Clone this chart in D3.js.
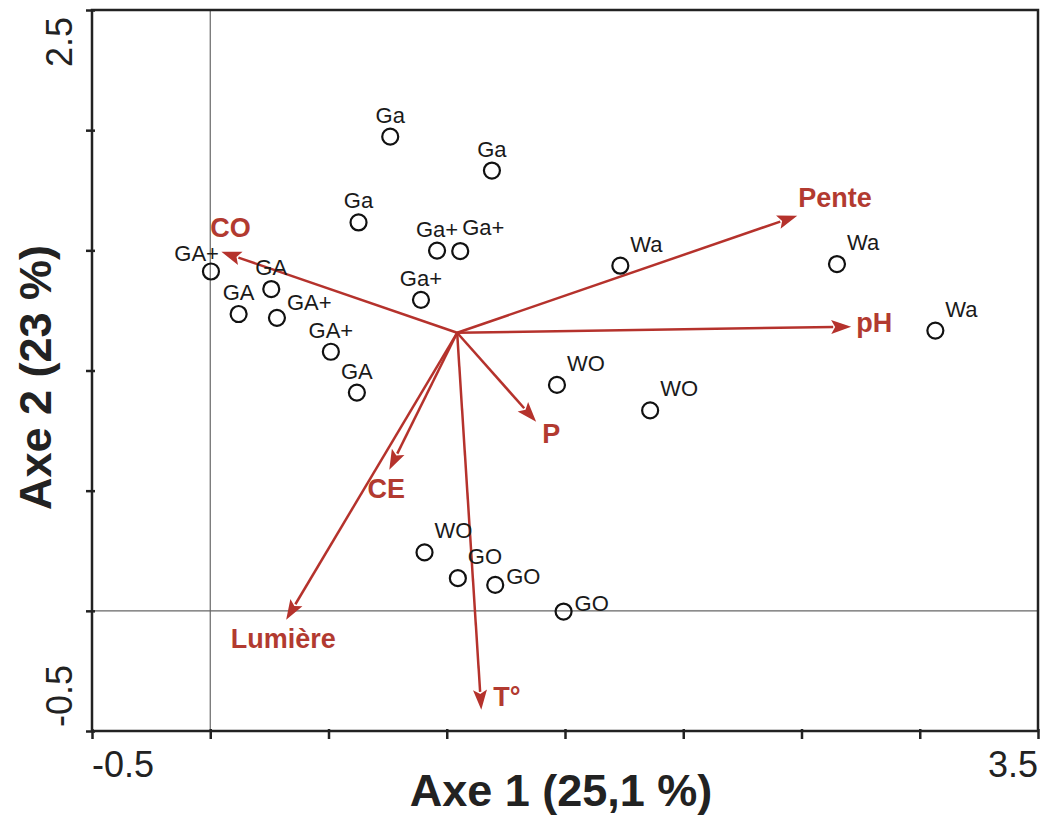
<!DOCTYPE html>
<html>
<head>
<meta charset="utf-8">
<script src="https://cdn.jsdelivr.net/npm/d3@7"></script>
<style>
  html, body { margin: 0; padding: 0; background: #fff; }
  svg { display: block; font-family: Arial, "Liberation Sans", sans-serif; }
</style>
</head>
<body>
<svg id="chart" width="1042" height="815"></svg>
<script>
// relevés (scores sur les axes 1 et 2)
const sampleLabels = ['Ga', 'Ga', 'Ga', 'Ga+', 'Ga+', 'Ga+', 'GA+', 'GA', 'GA', 'GA+', 'GA+', 'GA',
  'Wa', 'Wa', 'Wa', 'WO', 'WO', 'WO', 'GO', 'GO', 'GO'];
const sampleAxe1 = [0.761, 1.191, 0.627, 0.959, 1.057, 0.891, 0.003, 0.258, 0.120, 0.282, 0.510, 0.620,
  1.734, 2.650, 3.066, 1.466, 1.860, 0.906, 1.047, 1.205, 1.494];
const sampleAxe2 = [1.973, 1.832, 1.616, 1.499, 1.497, 1.294, 1.412, 1.339, 1.235, 1.219, 1.078, 0.908,
  1.436, 1.443, 1.166, 0.940, 0.834, 0.243, 0.136, 0.108, -0.003];
const sampleLabelPos = ['n', 'n', 'n', 'n', 'nne', 'n', 'nw', 'n', 'n', 'ene', 'n', 'n',
  'ne', 'ne', 'ne', 'ne', 'ne', 'ne', 'ne', 'e', 'e'];

// variables environnementales (extrémités des flèches)
const varNames = ['CO', 'Pente', 'pH', 'P', 'CE', 'Lumière', 'T°'];
const varAxe1 = [0.047, 2.482, 2.710, 1.378, 0.757, 0.321, 1.146];
const varAxe2 = [1.494, 1.644, 1.182, 0.787, 0.587, -0.037, -0.412];
const varLabelPos = ['nw', 'ne', 'e', 'se', 's', 's', 'e2'];
const vectorOrigin = [1.044, 1.157];

const xDomain = [-0.5, 3.5];
const yDomain = [-0.5, 2.5];
const xTicks = [-0.5, 0, 0.5, 1, 1.5, 2, 2.5, 3, 3.5];
const yTicks = [-0.5, 0, 0.5, 1, 1.5, 2, 2.5];
const xTickLabels = ['-0.5', '3.5'];
const yTickLabels = ['-0.5', '2.5'];
const xTitle = 'Axe 1 (25,1 %)';
const yTitle = 'Axe 2 (23 %)';

const INK = '#222';
const RED = '#b5322c';
const RED_TXT = '#b23a30';

const svg = d3.select('#chart');
const L = 92, R = 1038, T = 10, B = 731;

const x = d3.scaleLinear().domain(xDomain).range([L, R]);
const y = d3.scaleLinear().domain(yDomain).range([B, T]);

// lignes du zéro
svg.append('line').attr('x1', x(0)).attr('x2', x(0)).attr('y1', T).attr('y2', B)
  .attr('stroke', '#666').attr('stroke-width', 1.2);
svg.append('line').attr('x1', L).attr('x2', R).attr('y1', y(0)).attr('y2', y(0))
  .attr('stroke', '#666').attr('stroke-width', 1.2);

// cadre
svg.append('rect').attr('x', L).attr('y', T).attr('width', R - L).attr('height', B - T)
  .attr('fill', 'none').attr('stroke', INK).attr('stroke-width', 2.5);

// axes
const gx = svg.append('g').attr('transform', `translate(0,${B})`)
  .call(d3.axisBottom(x).tickValues(xTicks).tickSize(8).tickFormat(''));
const gy = svg.append('g').attr('transform', `translate(${L},0)`)
  .call(d3.axisLeft(y).tickValues(yTicks).tickSize(6).tickFormat(''));
[gx, gy].forEach(g => {
  g.select('.domain').remove();
  g.selectAll('.tick line').attr('stroke', INK).attr('stroke-width', 2.5);
});
gx.selectAll('.tick line').attr('y1', -2);
gy.selectAll('.tick line').attr('x1', 3);

// étiquettes des graduations (extrémités seulement)
svg.append('text').attr('x', x(xDomain[0])).attr('y', 777)
  .attr('font-size', 36).attr('fill', INK).text(xTickLabels[0]);
svg.append('text').attr('x', x(xDomain[1])).attr('y', 777).attr('text-anchor', 'end')
  .attr('font-size', 36).attr('fill', INK).text(xTickLabels[1]);
svg.append('text').attr('transform', `translate(72,${y(yDomain[0]) - 4}) rotate(-90)`)
  .attr('font-size', 36).attr('fill', INK).text(yTickLabels[0]);
svg.append('text').attr('transform', `translate(72,${y(yDomain[1]) + 7}) rotate(-90)`)
  .attr('text-anchor', 'end').attr('font-size', 36).attr('fill', INK).text(yTickLabels[1]);

// titres des axes
svg.append('text').attr('x', 561).attr('y', 806).attr('text-anchor', 'middle')
  .attr('font-size', 45).attr('font-weight', 700).attr('fill', INK).text(xTitle);
svg.append('text').attr('transform', `translate(51,${(y(yDomain[0]) + y(yDomain[1])) / 2 + 7}) rotate(-90)`)
  .attr('text-anchor', 'middle').attr('font-size', 45).attr('font-weight', 700).attr('fill', INK).text(yTitle);

// flèches
const ox = x(vectorOrigin[0]), oy = y(vectorOrigin[1]);
const HEAD = 20, HALF = 7;
const vars = varNames.map((n, i) => ({ name: n, x: varAxe1[i], y: varAxe2[i], pos: varLabelPos[i] }));
const gv = svg.append('g');
vars.forEach(v => {
  const tx = x(v.x), ty = y(v.y);
  const len = Math.hypot(tx - ox, ty - oy);
  const ux = (tx - ox) / len, uy = (ty - oy) / len;
  const bx = tx - ux * HEAD, by = ty - uy * HEAD;
  gv.append('line').attr('x1', ox).attr('y1', oy).attr('x2', bx + ux * 2).attr('y2', by + uy * 2)
    .attr('stroke', RED).attr('stroke-width', 2.5);
  gv.append('polygon')
    .attr('points', [[tx, ty], [bx - uy * HALF, by + ux * HALF], [bx + ux * 4, by + uy * 4], [bx + uy * HALF, by - ux * HALF]].map(p => p.join(',')).join(' '))
    .attr('fill', RED);
});

const varPlace = {
  nw: { a: 'start', dx: -11, dy: -15 },
  ne: { a: 'start', dx: 1, dy: -9 },
  e: { a: 'start', dx: 5, dy: 5 },
  se: { a: 'start', dx: 6, dy: 21 },
  s: { a: 'middle', dx: -3, dy: 28 },
  e2: { a: 'start', dx: 12, dy: -4 }
};
gv.selectAll('text.var').data(vars).join('text')
  .attr('class', 'var')
  .attr('x', d => x(d.x) + varPlace[d.pos].dx)
  .attr('y', d => y(d.y) + varPlace[d.pos].dy)
  .attr('text-anchor', d => varPlace[d.pos].a)
  .attr('font-size', 27).attr('font-weight', 700).attr('fill', RED_TXT)
  .text(d => d.name);

// relevés
const samples = sampleLabels.map((s, i) => ({ label: s, x: sampleAxe1[i], y: sampleAxe2[i], pos: sampleLabelPos[i] }));
const gs = svg.append('g');
gs.selectAll('circle').data(samples).join('circle')
  .attr('cx', d => x(d.x)).attr('cy', d => y(d.y)).attr('r', 8)
  .attr('fill', 'none').attr('stroke', '#111').attr('stroke-width', 2.2);

const ptPlace = {
  n: { a: 'middle', dx: 0, dy: -14 },
  nne: { a: 'start', dx: 2, dy: -16 },
  nw: { a: 'end', dx: 8, dy: -10 },
  ne: { a: 'start', dx: 10, dy: -14 },
  ene: { a: 'start', dx: 10, dy: -8 },
  e: { a: 'start', dx: 11, dy: -1 }
};
gs.selectAll('text').data(samples).join('text')
  .attr('x', d => x(d.x) + ptPlace[d.pos].dx)
  .attr('y', d => y(d.y) + ptPlace[d.pos].dy)
  .attr('text-anchor', d => ptPlace[d.pos].a)
  .attr('font-size', 22).attr('fill', '#1a1a1a')
  .text(d => d.label);
</script>
</body>
</html>
